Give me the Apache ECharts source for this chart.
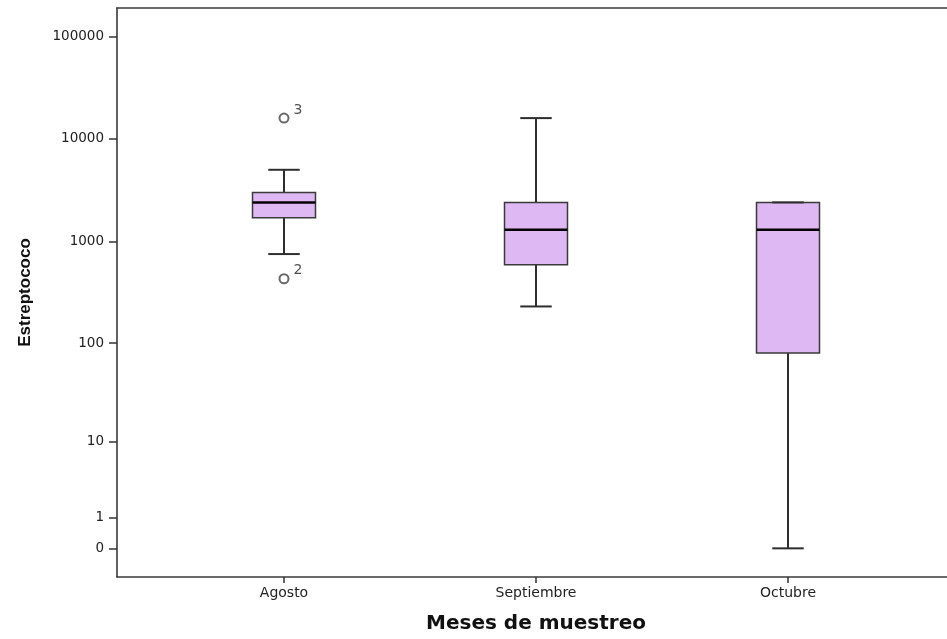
<!DOCTYPE html>
<html>
<head>
<meta charset="utf-8">
<script src="https://cdn.jsdelivr.net/npm/echarts@6/dist/echarts.min.js"></script>
<style>
html,body{margin:0;padding:0;background:#fff;}
#chart{width:947px;height:639px;}
</style>
</head>
<body>
<div id="chart"></div>
<script>
// ---- data ----
const categories = ['Agosto', 'Septiembre', 'Octubre'];
const whiskerLow = [750, 230, 0];
const quartile1 = [1700, 590, 80];
const medians = [2400, 1300, 1300];
const quartile3 = [3000, 2400, 2400];
const whiskerHigh = [5000, 16000, 2400];
const outlierCategory = ['Agosto', 'Agosto'];
const outlierValues = [16000, 430];
const outlierLabels = ['3', '2'];
const yTickValues = [0, 1, 10, 100, 1000, 10000, 100000];

// axis transform: log10(x + 1)
const T = v => Math.log10(v + 1);
const invT = t => Math.round(Math.pow(10, t) - 1);

const boxData = categories.map((c, i) => [
  i, T(whiskerLow[i]), T(quartile1[i]), T(medians[i]), T(quartile3[i]), T(whiskerHigh[i])
]);
const outlierData = outlierValues.map((v, i) => ({
  value: [categories.indexOf(outlierCategory[i]), T(v)],
  label: { formatter: outlierLabels[i] }
}));
const tickPositions = yTickValues.map(T);

function renderBox(params, api) {
  const x = api.value(0);
  const lo = api.coord([x, api.value(1)]);
  const q1 = api.coord([x, api.value(2)]);
  const md = api.coord([x, api.value(3)]);
  const q3 = api.coord([x, api.value(4)]);
  const hi = api.coord([x, api.value(5)]);
  const band = api.size([1, 0])[0];
  const bw = band * 0.25;
  const cw = bw / 2;
  const cx = md[0];
  const wStyle = { stroke: '#2e2e2e', lineWidth: 2 };
  return {
    type: 'group',
    children: [
      { type: 'line', shape: { x1: cx, y1: q3[1], x2: cx, y2: hi[1] }, style: wStyle },
      { type: 'line', shape: { x1: cx, y1: q1[1], x2: cx, y2: lo[1] }, style: wStyle },
      { type: 'rect', shape: { x: cx - bw / 2, y: q3[1], width: bw, height: q1[1] - q3[1] },
        style: { fill: '#ddb8f3', stroke: '#3a3a3a', lineWidth: 1.5 } },
      { type: 'line', shape: { x1: cx - bw / 2, y1: md[1], x2: cx + bw / 2, y2: md[1] },
        style: { stroke: '#000', lineWidth: 2.5 } },
      { type: 'line', shape: { x1: cx - cw / 2, y1: hi[1], x2: cx + cw / 2, y2: hi[1] }, style: wStyle },
      { type: 'line', shape: { x1: cx - cw / 2, y1: lo[1], x2: cx + cw / 2, y2: lo[1] }, style: wStyle }
    ]
  };
}

const frameLine = { show: true, onZero: false, lineStyle: { color: '#3a3a3a', width: 1.6 } };
const bareAxis = {
  gridIndex: 1, type: 'value', min: 0, max: 1,
  axisLine: frameLine, axisTick: { show: false }, axisLabel: { show: false }, splitLine: { show: false }
};

const chart = echarts.init(document.getElementById('chart'), null, { renderer: 'canvas' });
chart.setOption({
  animation: false,
  backgroundColor: '#fff',
  grid: [
    { left: 158, right: 33, top: 8, bottom: 62, show: false },
    { left: 117, right: 0, top: 8, bottom: 62, show: false }
  ],
  xAxis: [
    {
      gridIndex: 0,
      type: 'category',
      data: categories,
      boundaryGap: true,
      axisLine: { show: false, onZero: false },
      axisTick: { show: true, alignWithLabel: true, length: 6, lineStyle: { color: '#333', width: 1.5 } },
      axisLabel: { interval: 0, margin: 9, fontFamily: 'DejaVu Sans', fontSize: 14, color: '#222' },
      name: 'Meses de muestreo',
      nameLocation: 'middle',
      nameGap: 37,
      nameTextStyle: { fontFamily: 'DejaVu Sans', fontWeight: 'bold', fontSize: 20, color: '#111' }
    },
    Object.assign({}, bareAxis, { position: 'bottom' }),
    Object.assign({}, bareAxis, { position: 'top' })
  ],
  yAxis: [
    {
      gridIndex: 0,
      type: 'value',
      min: -0.28,
      max: 5.28,
      offset: 41,
      splitLine: { show: false },
      axisLine: { show: false, onZero: false },
      axisTick: { show: true, customValues: tickPositions, length: 8, lineStyle: { color: '#333', width: 1.5 } },
      axisLabel: {
        customValues: tickPositions,
        margin: 13,
        fontFamily: 'DejaVu Sans',
        fontSize: 13.5,
        color: '#222',
        formatter: v => String(invT(v))
      },
      name: 'Estreptococo',
      nameLocation: 'middle',
      nameGap: 83,
      nameTextStyle: { fontFamily: 'Liberation Sans', fontWeight: 'bold', fontSize: 17, color: '#111' }
    },
    Object.assign({}, bareAxis, { position: 'left' })
  ],
  series: [
    {
      type: 'custom',
      xAxisIndex: 0,
      yAxisIndex: 0,
      renderItem: renderBox,
      encode: { x: 0, y: [1, 2, 3, 4, 5] },
      data: boxData,
      z: 3
    },
    {
      type: 'scatter',
      xAxisIndex: 0,
      yAxisIndex: 0,
      symbol: 'emptyCircle',
      symbolSize: 9,
      itemStyle: { color: '#444', borderColor: '#444', borderWidth: 1.5 },
      label: {
        show: true,
        position: 'right',
        distance: 4,
        offset: [0, -8],
        fontFamily: 'DejaVu Sans',
        fontSize: 14,
        color: '#222'
      },
      data: outlierData,
      z: 4
    }
  ]
});
</script>
</body>
</html>
